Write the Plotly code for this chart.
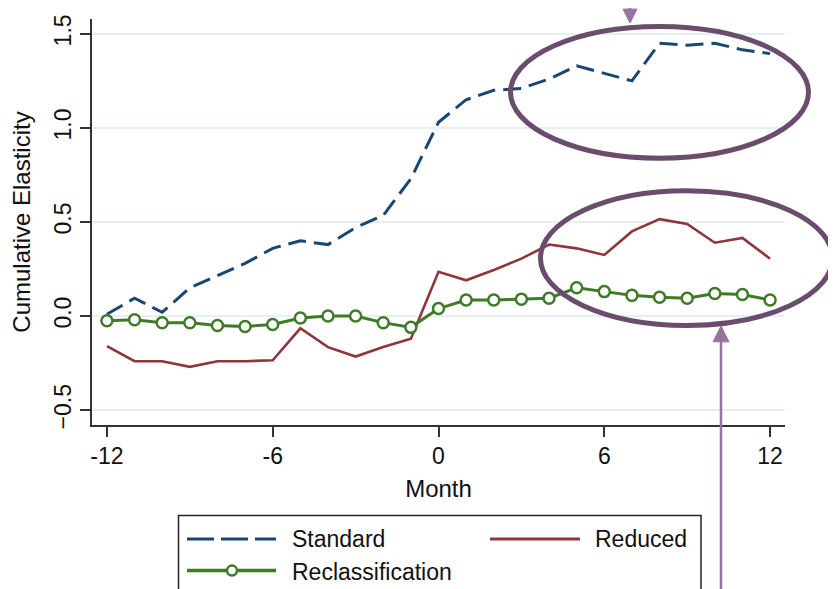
import plotly.graph_objects as go

months = list(range(-12, 13))
standard = [0.01, 0.095, 0.02, 0.15, 0.215, 0.28, 0.36, 0.40, 0.38, 0.47, 0.535, 0.73,
            1.03, 1.15, 1.20, 1.21, 1.26, 1.33, 1.29, 1.25, 1.45, 1.44, 1.45, 1.415, 1.395]
reduced = [-0.16, -0.24, -0.24, -0.27, -0.24, -0.24, -0.235, -0.065, -0.165, -0.215, -0.165, -0.12,
           0.235, 0.19, 0.245, 0.305, 0.38, 0.36, 0.325, 0.45, 0.515, 0.49, 0.39, 0.415, 0.305]
reclass = [-0.025, -0.02, -0.035, -0.035, -0.05, -0.055, -0.045, -0.01, 0.0, 0.0, -0.035, -0.06,
           0.04, 0.085, 0.085, 0.09, 0.095, 0.15, 0.13, 0.11, 0.10, 0.095, 0.12, 0.115, 0.085]
x_ticks = [-12, -6, 0, 6, 12]
y_ticks = [-0.5, 0.0, 0.5, 1.0, 1.5]
names = ["Standard", "Reduced", "Reclassification"]

NAVY = "#1a476f"
MAROON = "#90353b"
GREEN = "#3f7a28"
ELL = "#6a4d6d"
ARR = "#9674a0"
FONT = "Liberation Sans, Arial, sans-serif"

OFF = 8  # default page body margin
W, H = 836 - OFF, 589 - OFF
# plot area in page pixels: x 92..785, y 15..425
PL, PR, PT, PB = 92, 785, 15, 425
L, T = PL - OFF, PT - OFF
PW, PH = PR - PL, PB - PT
R, B = W - L - PW, H - T - PH


def px(xp):
    return (xp - PL) / PW


def py(yp):
    return (PB - yp) / PH


fig = go.Figure()
fig.add_trace(go.Scatter(x=months, y=standard, mode="lines", name=names[0],
                         line=dict(color=NAVY, width=3, dash="18px,8px"), showlegend=False))
fig.add_trace(go.Scatter(x=months, y=reduced, mode="lines", name=names[1],
                         line=dict(color=MAROON, width=2.6), showlegend=False))
fig.add_trace(go.Scatter(x=months, y=reclass, mode="lines+markers", name=names[2],
                         line=dict(color=GREEN, width=3),
                         marker=dict(symbol="circle", size=11, color="white",
                                     line=dict(color=GREEN, width=2.5)),
                         showlegend=False))

shapes = []
# ellipses
shapes.append(dict(type="circle", xref="paper", yref="paper",
                   x0=px(510.5), x1=px(808.5), y0=py(155.5), y1=py(22.5),
                   line=dict(color=ELL, width=5)))
shapes.append(dict(type="circle", xref="paper", yref="paper",
                   x0=px(540.5), x1=px(832.5), y0=py(324.5), y1=py(188.5),
                   line=dict(color=ELL, width=5)))
# arrows
shapes.append(dict(type="line", xref="paper", yref="paper",
                   x0=px(630), x1=px(630), y0=py(-5), y1=py(8),
                   line=dict(color=ARR, width=2.5)))
shapes.append(dict(type="path", xref="paper", yref="paper",
                   path=f"M {px(623)},{py(5)} L {px(637)},{py(5)} L {px(630)},{py(19)} Z",
                   fillcolor=ARR, line=dict(color=ARR, width=1)))
shapes.append(dict(type="line", xref="paper", yref="paper",
                   x0=px(721), x1=px(721), y0=py(600), y1=py(338),
                   line=dict(color=ARR, width=2.5)))
shapes.append(dict(type="path", xref="paper", yref="paper",
                   path=f"M {px(713)},{py(341)} L {px(729)},{py(341)} L {px(721)},{py(325)} Z",
                   fillcolor=ARR, line=dict(color=ARR, width=1)))
# legend box
shapes.append(dict(type="rect", xref="paper", yref="paper",
                   x0=px(178.5), x1=px(701), y0=py(600), y1=py(516.5),
                   line=dict(color="#222222", width=1.5), fillcolor="rgba(0,0,0,0)"))
shapes.append(dict(type="line", xref="paper", yref="paper",
                   x0=px(187), x1=px(276), y0=py(540), y1=py(540),
                   line=dict(color=NAVY, width=3, dash="27px,7px")))
shapes.append(dict(type="line", xref="paper", yref="paper",
                   x0=px(490), x1=px(580), y0=py(540), y1=py(540),
                   line=dict(color=MAROON, width=3)))
shapes.append(dict(type="line", xref="paper", yref="paper",
                   x0=px(187), x1=px(276), y0=py(572), y1=py(572),
                   line=dict(color=GREEN, width=3.5)))
shapes.append(dict(type="circle", xref="paper", yref="paper",
                   x0=px(227), x1=px(237), y0=py(577), y1=py(567),
                   fillcolor="white", line=dict(color=GREEN, width=2.5)))

annotations = [
    dict(text=names[0], x=px(290), y=py(540), xref="paper", yref="paper",
         xanchor="left", yanchor="middle", showarrow=False,
         font=dict(family=FONT, size=23, color="#111111")),
    dict(text=names[1], x=px(593), y=py(540), xref="paper", yref="paper",
         xanchor="left", yanchor="middle", showarrow=False,
         font=dict(family=FONT, size=23, color="#111111")),
    dict(text=names[2], x=px(290), y=py(573), xref="paper", yref="paper",
         xanchor="left", yanchor="middle", showarrow=False,
         font=dict(family=FONT, size=23, color="#111111")),
]

fig.update_layout(
    width=W, height=H,
    margin=dict(l=L, r=R, t=T, b=B, pad=0),
    paper_bgcolor="white", plot_bgcolor="white",
    font=dict(family=FONT, size=22, color="#111111"),
    shapes=shapes, annotations=annotations,
    showlegend=False,
)
fig.update_xaxes(range=[-12.54, 12.54], tickvals=x_ticks, ticktext=[str(v) for v in x_ticks],
                 showgrid=False, zeroline=False, showline=True, linecolor="#333333", linewidth=1.5,
                 ticks="outside", ticklen=10, tickwidth=1.5, tickcolor="#333333",
                 tickfont=dict(size=23),
                 title=dict(text="Month", font=dict(size=24), standoff=12))
fig.update_yaxes(range=[-0.579, 1.579], tickvals=y_ticks, tickformat=".1f",
                 showgrid=True, gridcolor="#e6f0f1", gridwidth=1.5, zeroline=False,
                 showline=True, linecolor="#333333", linewidth=1.5,
                 ticks="outside", ticklen=10, tickwidth=1.5, tickcolor="#333333",
                 tickangle=-90, tickfont=dict(size=23),
                 title=dict(text="Cumulative Elasticity", font=dict(size=24), standoff=14))

fig.write_html("out.html")
